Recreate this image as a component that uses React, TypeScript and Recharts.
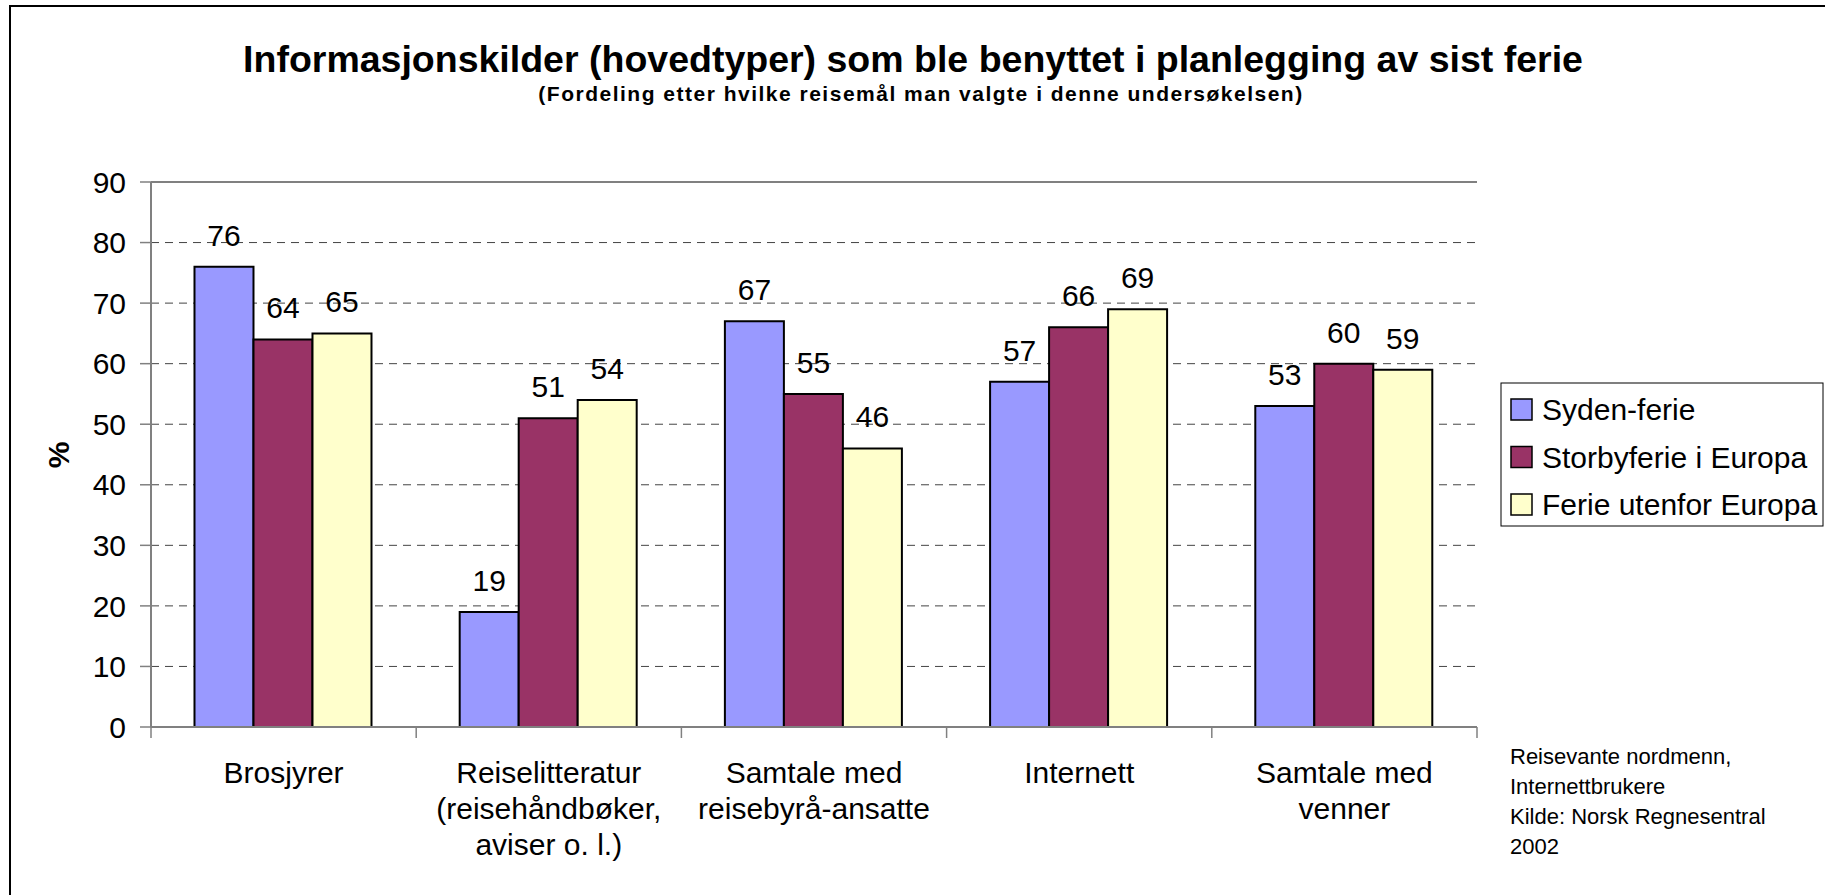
import React from "react";
import {
  BarChart,
  Bar,
  XAxis,
  YAxis,
  CartesianGrid,
  ReferenceLine,
  LabelList,
} from "recharts";

/* ------------------------------------------------------------------ */
/*  Data                                                               */
/* ------------------------------------------------------------------ */

const CATEGORIES = [
  "Brosjyrer",
  "Reiselitteratur\n(reisehåndbøker,\naviser o. l.)",
  "Samtale med\nreisebyrå-ansatte",
  "Internett",
  "Samtale med\nvenner",
];

const SYDEN = [76, 19, 67, 57, 53];
const STORBY = [64, 51, 55, 66, 60];
const UTENFOR = [65, 54, 46, 69, 59];

const Y_TICKS = [0, 10, 20, 30, 40, 50, 60, 70, 80, 90];

const SERIES = [
  { key: "syden", name: "Syden-ferie", color: "#9999FF", values: SYDEN },
  { key: "storby", name: "Storbyferie i Europa", color: "#993366", values: STORBY },
  { key: "utenfor", name: "Ferie utenfor Europa", color: "#FFFFCC", values: UTENFOR },
];

const TITLE = "Informasjonskilder (hovedtyper) som ble benyttet i planlegging av sist ferie";
const SUBTITLE = "(Fordeling etter hvilke reisemål man valgte i denne undersøkelsen)";
const Y_LABEL = "%";
const SOURCE_LINES = [
  "Reisevante nordmenn,",
  "Internettbrukere",
  "Kilde: Norsk Regnesentral",
  "2002",
];

/* ------------------------------------------------------------------ */
/*  Constants                                                          */
/* ------------------------------------------------------------------ */

const W = 1825;
const H = 895;
const FONT = '"Liberation Sans", Arial, Helvetica, sans-serif';
const AXIS_GRAY = "#808080";

const data = CATEGORIES.map((cat, i) => {
  const row: Record<string, string | number> = { cat };
  SERIES.forEach((s) => {
    row[s.key] = s.values[i];
  });
  return row;
});

/* ------------------------------------------------------------------ */
/*  Category tick: multi-line label + tick marks on category edges     */
/* ------------------------------------------------------------------ */

function CategoryTick(props: any) {
  const { x, y, payload, index, visibleTicksCount } = props;
  const half = payload && payload.offset ? payload.offset : 132.6;
  const lines = String(payload.value).split("\n");
  const last = index === (visibleTicksCount ?? CATEGORIES.length) - 1;
  return (
    <g>
      <line x1={x - half} x2={x - half} y1={y} y2={y + 11} stroke={AXIS_GRAY} strokeWidth={1.5} />
      {last && (
        <line x1={x + half} x2={x + half} y1={y} y2={y + 11} stroke={AXIS_GRAY} strokeWidth={1.5} />
      )}
      <text x={x} y={y + 56} textAnchor="middle" fontSize={30} fill="#000" fontFamily={FONT}>
        {lines.map((l, i) => (
          <tspan key={i} x={x} dy={i === 0 ? 0 : 36}>
            {l}
          </tspan>
        ))}
      </text>
    </g>
  );
}

/* ------------------------------------------------------------------ */
/*  Component                                                          */
/* ------------------------------------------------------------------ */

export default function App() {
  return (
    <div
      style={{
        position: "absolute",
        left: 0,
        top: 0,
        width: W,
        height: H,
        overflow: "hidden",
        background: "#fff",
        fontFamily: FONT,
      }}
    >
      <div
        style={{
          position: "absolute",
          left: 9,
          top: 5,
          width: W,
          height: H,
          border: "2px solid #000",
        }}
      />
      <div style={{ position: "absolute", left: 0, top: 0 }}>
        <BarChart
          width={W}
          height={H}
          data={data}
          margin={{ top: 182, right: 348, bottom: 0, left: 0 }}
          barGap={0}
          barCategoryGap="16.4%"
          style={{ fontFamily: FONT }}
        >
          <CartesianGrid vertical={false} stroke="#444" strokeDasharray="8 6" strokeWidth={1} />
          <XAxis
            dataKey="cat"
            interval={0}
            height={168}
            tickSize={0}
            tickMargin={0}
            tickLine={false}
            axisLine={{ stroke: AXIS_GRAY, strokeWidth: 2 }}
            tick={<CategoryTick />}
          />
          <YAxis
            width={151}
            domain={[0, 90]}
            ticks={Y_TICKS}
            interval={0}
            tickSize={11}
            tickMargin={14}
            tickLine={{ stroke: AXIS_GRAY, strokeWidth: 1.5 }}
            axisLine={{ stroke: AXIS_GRAY, strokeWidth: 2 }}
            tick={{ fontSize: 30, fill: "#000", fontFamily: FONT }}
          />
          <YAxis
            yAxisId="right"
            orientation="right"
            width={0}
            domain={[0, 90]}
            tick={false}
            tickLine={false}
            axisLine={{ stroke: AXIS_GRAY, strokeWidth: 2 }}
          />
          <ReferenceLine y={90} stroke={AXIS_GRAY} strokeWidth={2} />
          {SERIES.map((s) => (
            <Bar
              key={s.key}
              dataKey={s.key}
              name={s.name}
              fill={s.color}
              stroke="#000"
              strokeWidth={2}
              isAnimationActive={false}
            >
              <LabelList
                dataKey={s.key}
                position="top"
                offset={21}
                fontSize={30}
                fill="#000"
                fontFamily={FONT}
              />
            </Bar>
          ))}
        </BarChart>
      </div>
      <svg
        width={W}
        height={H}
        style={{ position: "absolute", left: 0, top: 0, pointerEvents: "none" }}
        fontFamily={FONT}
      >
        <text x={913} y={72} textAnchor="middle" fontSize={37.5} fontWeight="bold" fill="#000">
          {TITLE}
        </text>
        <text
          x={921}
          y={101}
          textAnchor="middle"
          fontSize={21}
          fontWeight="bold"
          fill="#000"
          letterSpacing={1.5}
        >
          {SUBTITLE}
        </text>
        <text
          x={58}
          y={455}
          textAnchor="middle"
          dominantBaseline="central"
          fontSize={30}
          fontWeight="bold"
          fill="#000"
          transform="rotate(-90 58 455)"
        >
          {Y_LABEL}
        </text>

        {/* legend */}
        <rect x={1501} y={383} width={322} height={143} fill="#fff" stroke="#000" strokeWidth={1} />
        {SERIES.map((s, i) => {
          const cy = 409 + i * 47.5;
          return (
            <g key={s.key}>
              <rect x={1511} y={cy - 10} width={21} height={21} fill={s.color} stroke="#000" strokeWidth={1.5} />
              <text x={1542} y={cy + 11} fontSize={30} fill="#000">
                {s.name}
              </text>
            </g>
          );
        })}

        {/* source note */}
        {SOURCE_LINES.map((l, i) => (
          <text key={i} x={1510} y={764 + i * 30} fontSize={22} fill="#000">
            {l}
          </text>
        ))}
      </svg>
    </div>
  );
}
